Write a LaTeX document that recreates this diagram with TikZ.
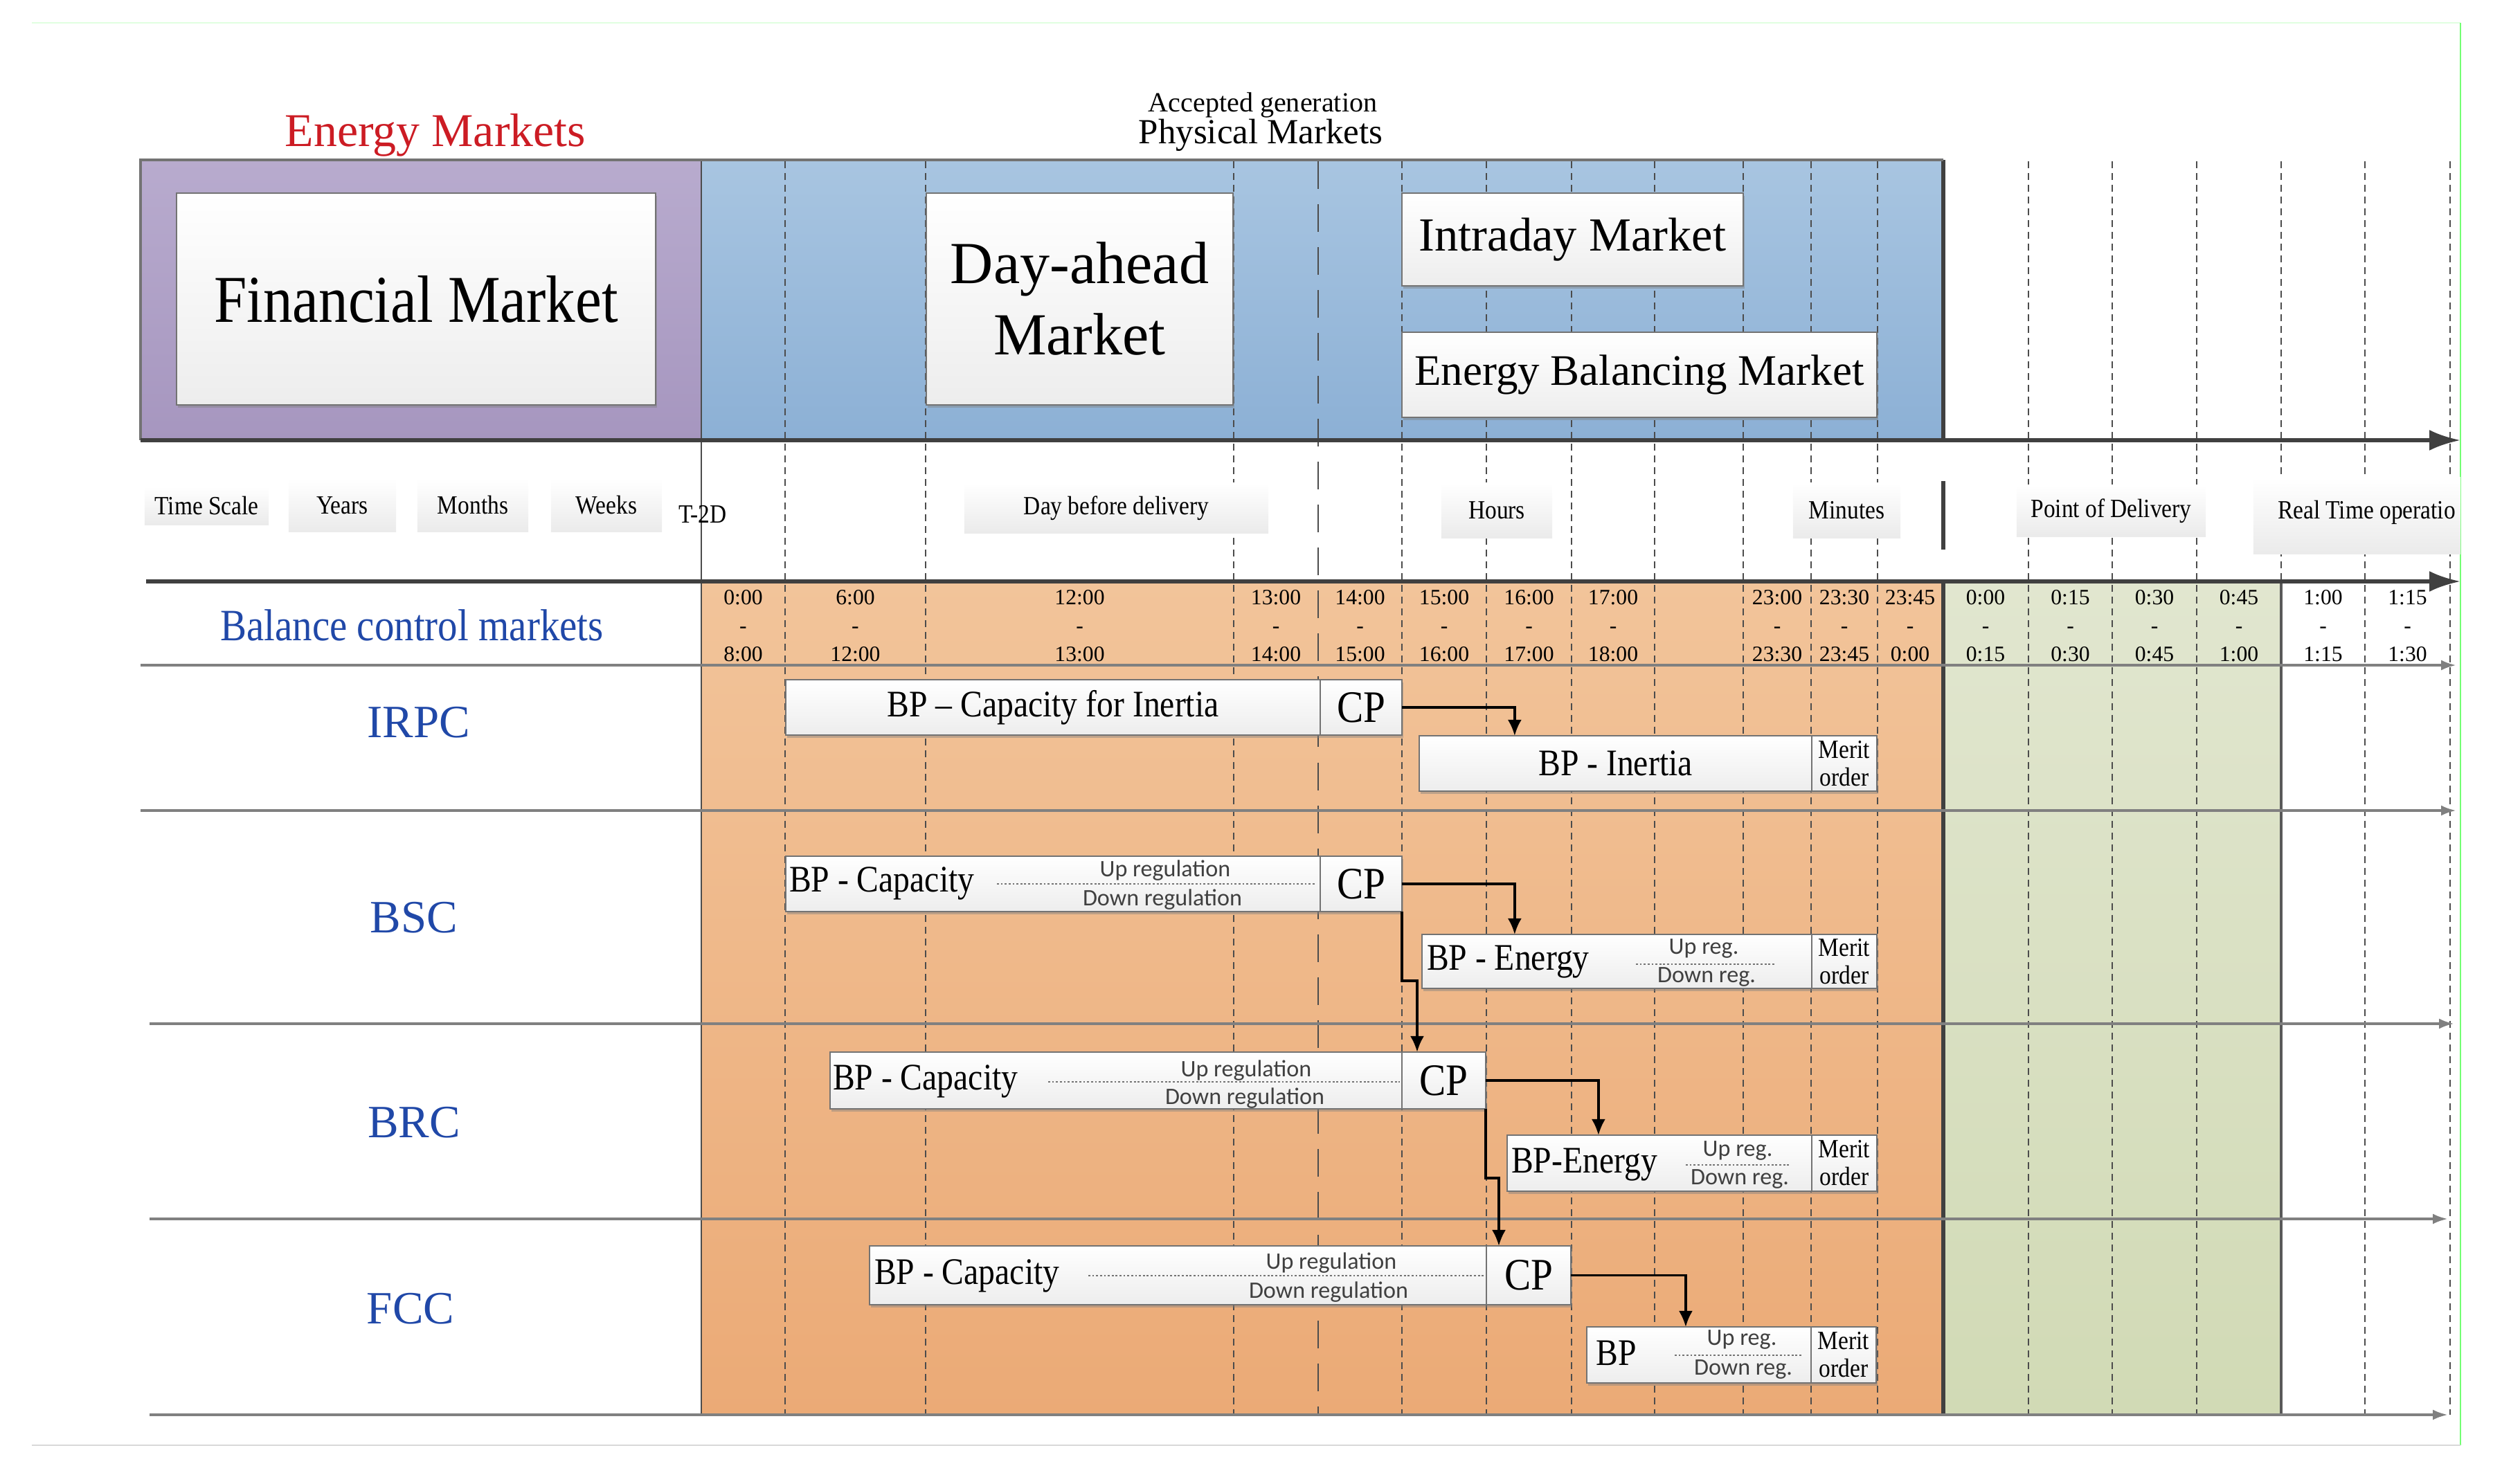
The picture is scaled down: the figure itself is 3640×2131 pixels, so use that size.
\documentclass[tikz,border=0pt]{standalone}
\usepackage{fontspec}
\setmainfont{Liberation Serif}
\newfontfamily\cond{Liberation Serif}[FakeStretch=0.88]
\newfontfamily\calib{Carlito}
\usetikzlibrary{arrows.meta,calc,shadows}
\definecolor{purpT}{RGB}{184,171,206}
\definecolor{purpB}{RGB}{166,150,191}
\definecolor{bluT}{RGB}{168,197,225}
\definecolor{bluB}{RGB}{140,176,213}
\definecolor{orT}{RGB}{242,196,154}
\definecolor{orB}{RGB}{235,170,118}
\definecolor{grT}{RGB}{225,230,207}
\definecolor{grB}{RGB}{209,218,181}
\definecolor{redTxt}{RGB}{204,28,36}
\definecolor{bluTxt}{RGB}{32,72,168}
\definecolor{boxB}{RGB}{237,237,237}
\begin{document}
\begin{tikzpicture}[x=0.01cm,y=-0.01cm,
  wbox/.style={draw=black!55, line width=0.6pt, top color=white, bottom color=boxB,
    inner sep=0pt, outer sep=0pt,
    drop shadow={shadow xshift=0.5pt, shadow yshift=-1.2pt, opacity=0.45}},
  lbox/.style={top color=white, bottom color=black!8, inner sep=0pt, outer sep=0pt},
  vline/.style={black!70, line width=0.6pt, dash pattern=on 0.1cm off 0.07cm},
  ldash/.style={black!70, line width=0.7pt, dash pattern=on 0.4cm off 0.22cm},
  axisA/.style={black!75, line width=1.6pt, -{Latex[length=0.45cm,width=0.3cm]}},
  rowl/.style={black!50, line width=1.1pt, -{Latex[length=0.22cm,width=0.15cm]}},
  conn/.style={black, line width=1pt, -{Latex[length=0.23cm,width=0.2cm]}},
  dotl/.style={black!55, line width=0.8pt, dash pattern=on 0.8pt off 0.8pt},
  txt/.style={inner sep=0pt, outer sep=0pt},
  tl/.style={txt, font=\fontsize{9}{11.66}\selectfont, align=center},
  lblfont/.style={font=\cond\fontsize{10.8}{13}\selectfont},
  bpfont/.style={font=\cond\fontsize{15.4}{18}\selectfont},
  cpfont/.style={font=\cond\fontsize{18.5}{20}\selectfont},
  merit/.style={align=center, font=\cond\fontsize{10.8}{11.4}\selectfont},
  updn/.style={txt, font=\calib\fontsize{9.7}{11}\selectfont, text=black!75},
  rowname/.style={txt, text=bluTxt, font=\fontsize{19}{22}\selectfont}
]
\path[use as bounding box] (0,0) rectangle (3640,2131);
% faint screenshot frame
\draw[green!12, line width=0.3pt] (46,33) -- (3554,33);
\draw[green!55, line width=0.4pt] (3554,33) -- (3554,2088);
\draw[black!15, line width=0.4pt] (46,2088) -- (3554,2088);

% top regions
\shade[top color=purpT, bottom color=purpB] (203,231) rectangle (1013,636);
\shade[top color=bluT, bottom color=bluB] (1013,231) rectangle (2807,636);
% lower regions
\shade[top color=orT, bottom color=orB] (1013,840) rectangle (2807,2044);
\shade[top color=grT, bottom color=grB] (2807,840) rectangle (3295,2044);

% vertical time lines
\foreach \xx in {1134,1337,1782,2025,2147,2270,2390,2518,2616,2712,2930,3051,3173,3416,3539}
  \draw[vline] (\xx,233) -- (\xx,2044);
\draw[ldash] (1904,233) -- (1904,2044);
\draw[vline] (3295,233) -- (3295,840);
\draw[black!70, line width=0.8pt] (1013,231) -- (1013,2044);
\draw[black!75, line width=1.8pt] (2807,231) -- (2807,636);
\draw[black!75, line width=1.6pt] (2807,695) -- (2807,794);
\draw[black!75, line width=1.8pt] (2807,840) -- (2807,2044);
\draw[black!65, line width=0.9pt] (3295,840) -- (3295,2044);
\draw[black!55, line width=0.9pt] (203,636) -- (203,231) -- (2807,231);

% axes
\draw[axisA] (203,636) -- (3554,636);
\draw[axisA] (211,840) -- (3554,840);
\draw[rowl] (203,961) -- (3548,961);
\draw[rowl] (203,1171) -- (3548,1171);
\draw[rowl] (216,1479) -- (3545,1479);
\draw[rowl] (216,1761) -- (3536,1761);
\draw[rowl] (216,2044) -- (3536,2044);

% time scale row labels
\node[lbox, lblfont, minimum width=1.79cm, minimum height=0.55cm] (tsc) at (298.5,730.5) {Time Scale};
\node[lbox, lblfont, minimum width=1.55cm, minimum height=0.76cm] (yrs) at (494.5,730) {Years};
\node[lbox, lblfont, minimum width=1.60cm, minimum height=0.76cm] (mon) at (683,730) {Months};
\node[lbox, lblfont, minimum width=1.60cm, minimum height=0.76cm] (wks) at (876,730) {Weeks};
\node[txt, lblfont] (t2d) at (1015,743) {T-2D};
\node[lbox, lblfont, minimum width=4.39cm, minimum height=0.72cm] (dbd) at (1612.5,734) {Day before delivery};
\node[lbox, lblfont, minimum width=1.60cm, minimum height=0.79cm] (hrs) at (2162,737.5) {Hours};
\node[lbox, lblfont, minimum width=1.55cm, minimum height=0.79cm] (mins) at (2667.5,737.5) {Minutes};
\node[lbox, lblfont, minimum width=2.73cm, minimum height=0.74cm] (pod) at (3049.5,738) {Point of Delivery};
\node[lbox, minimum width=2.99cm, minimum height=1.10cm] (rt) at (3404.5,745) {};
\node[txt, lblfont, anchor=west] (rtt) at (3290,740) {Real Time operatio};

% market boxes
\node[wbox, minimum width=6.92cm, minimum height=3.06cm, font=\cond\fontsize{27.5}{33}\selectfont] (fin) at (601,432) {Financial Market};
\node[wbox, minimum width=4.43cm, minimum height=3.06cm, align=center, font=\fontsize{24.5}{29.3}\selectfont] (dah) at (1559.5,432) {Day-ahead\\Market};
\node[wbox, minimum width=4.93cm, minimum height=1.34cm, font=\fontsize{19.5}{23}\selectfont] (intra) at (2271.5,346) {Intraday Market};
\node[wbox, minimum width=6.86cm, minimum height=1.23cm, font=\fontsize{17.9}{21}\selectfont] (ebm) at (2368,541.5) {Energy Balancing Market};

% titles
\node[txt, text=redTxt, font=\fontsize{19.3}{22}\selectfont] (enm) at (629,195) {Energy Markets};
\node[txt, font=\fontsize{11.4}{13}\selectfont] (accg) at (1824,152) {Accepted generation};
\node[txt, font=\fontsize{14.5}{17}\selectfont] (phym) at (1821,195) {Physical Markets};

% time labels
\node[tl] (c1) at (1073.5,904) {0:00\\-\\8:00};
\node[tl] (c2) at (1235.5,904) {6:00\\-\\12:00};
\node[tl] (c3) at (1559.5,904) {12:00\\-\\13:00};
\node[tl] (c4) at (1843,904) {13:00\\-\\14:00};
\node[tl] (c5) at (1964.5,904) {14:00\\-\\15:00};
\node[tl] (c6) at (2086,904) {15:00\\-\\16:00};
\node[tl] (c7) at (2208.5,904) {16:00\\-\\17:00};
\node[tl] (c8) at (2330,904) {17:00\\-\\18:00};
\node[tl] (c9) at (2567,904) {23:00\\-\\23:30};
\node[tl] (c10) at (2664,904) {23:30\\-\\23:45};
\node[tl] (c11) at (2759,904) {23:45\\-\\0:00};
\node[tl] (c12) at (2868,904) {0:00\\-\\0:15};
\node[tl] (c13) at (2990.5,904) {0:15\\-\\0:30};
\node[tl] (c14) at (3112,904) {0:30\\-\\0:45};
\node[tl] (c15) at (3234,904) {0:45\\-\\1:00};
\node[tl] (c16) at (3355.5,904) {1:00\\-\\1:15};
\node[tl] (c17) at (3477.5,904) {1:15\\-\\1:30};

% row names
\node[txt, text=bluTxt, font=\cond\fontsize{18.4}{21}\selectfont] (bcm) at (595,903) {Balance control markets};
\node[rowname] (irpc) at (605,1044) {IRPC};
\node[rowname] (bsc) at (598,1326) {BSC};
\node[rowname] (brc) at (598,1622) {BRC};
\node[rowname] (fcc) at (593,1891) {FCC};

% IRPC
\node[wbox, bpfont, minimum width=7.72cm, minimum height=0.80cm] (bpci) at (1521,1022) {BP – Capacity for Inertia};
\node[wbox, cpfont, minimum width=1.18cm, minimum height=0.80cm] (cp1) at (1966,1022) {CP};
\node[wbox, bpfont, minimum width=5.67cm, minimum height=0.80cm] (bpi) at (2333.5,1103) {BP - Inertia};
\node[wbox, merit, minimum width=0.94cm, minimum height=0.80cm] (mo1) at (2664,1103) {Merit\\order};

% BSC
\node[wbox, minimum width=7.72cm, minimum height=0.80cm] (bpc2) at (1521,1277) {};
\node[wbox, cpfont, minimum width=1.18cm, minimum height=0.80cm] (cp2) at (1966,1277) {CP};
\node[txt, bpfont, anchor=west] (bpc2t) at (1140,1276) {BP - Capacity};
\draw[dotl] (1440,1277) -- (1901,1277);
\node[updn] (bpc2u) at (1683,1258) {Up regulation};
\node[updn] (bpc2d) at (1679,1300) {Down regulation};
\node[wbox, minimum width=5.63cm, minimum height=0.78cm] (bpe2) at (2335.5,1389) {};
\node[wbox, merit, minimum width=0.94cm, minimum height=0.78cm] (mo2) at (2664,1389) {Merit\\order};
\node[txt, bpfont, anchor=west] (bpe2t) at (2061,1390) {BP - Energy};
\draw[dotl] (2363,1393) -- (2565,1393);
\node[updn] (bpe2u) at (2461,1370) {Up reg.};
\node[updn] (bpe2d) at (2465,1411) {Down reg.};

% BRC
\node[wbox, minimum width=8.26cm, minimum height=0.82cm] (bpc3) at (1612,1561) {};
\node[wbox, cpfont, minimum width=1.21cm, minimum height=0.82cm] (cp3) at (2085.5,1561) {CP};
\node[txt, bpfont, anchor=west] (bpc3t) at (1203,1562) {BP - Capacity};
\draw[dotl] (1514,1563) -- (2022,1563);
\node[updn] (bpc3u) at (1800,1547) {Up regulation};
\node[updn] (bpc3d) at (1798,1587) {Down regulation};
\node[wbox, minimum width=4.40cm, minimum height=0.81cm] (bpe3) at (2397,1680.5) {};
\node[wbox, merit, minimum width=0.94cm, minimum height=0.81cm] (mo3) at (2664,1680.5) {Merit\\order};
\node[txt, bpfont, anchor=west] (bpe3t) at (2183,1683) {BP-Energy};
\draw[dotl] (2435,1683) -- (2584,1683);
\node[updn] (bpe3u) at (2510,1662) {Up reg.};
\node[updn] (bpe3d) at (2513,1703) {Down reg.};

% FCC
\node[wbox, minimum width=8.91cm, minimum height=0.85cm] (bpc4) at (1701.5,1842.5) {};
\node[wbox, cpfont, minimum width=1.22cm, minimum height=0.85cm] (cp4) at (2208,1842.5) {CP};
\node[txt, bpfont, anchor=west] (bpc4t) at (1263,1843) {BP - Capacity};
\draw[dotl] (1572,1843) -- (2144,1843);
\node[updn] (bpc4u) at (1923,1825) {Up regulation};
\node[updn] (bpc4d) at (1919,1867) {Down regulation};
\node[wbox, minimum width=3.24cm, minimum height=0.81cm] (bp4) at (2454,1957.5) {};
\node[wbox, merit, minimum width=0.94cm, minimum height=0.81cm] (mo4) at (2663,1957.5) {Merit\\order};
\node[txt, bpfont] (bp4t) at (2335,1955) {BP};
\draw[dotl] (2419,1958) -- (2603,1958);
\node[updn] (bp4u) at (2516,1935) {Up reg.};
\node[updn] (bp4d) at (2518,1978) {Down reg.};

% connectors
\draw[conn] (cp1.east) -| ($(bpi.north west)+(138,0)$);
\draw[conn] (cp2.east) -| ($(bpe2.north west)+(134,0)$);
\draw[conn] (cp2.south east) -- ++(0,100) -| ($(cp3.north west)+(22,0)$);
\draw[conn] (cp3.east) -| ($(bpe3.north west)+(132,0)$);
\draw[conn] (cp3.south east) -- ++(0,100) -| ($(cp4.north west)+(18,0)$);
\draw[conn] (cp4.east) -| ($(bp4.north west)+(143,0)$);
\end{tikzpicture}
\end{document}
